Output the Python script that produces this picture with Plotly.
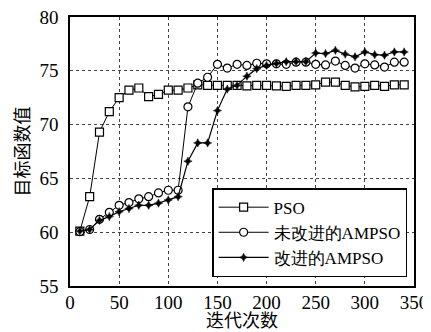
import plotly.graph_objects as go

iters = list(range(10, 350, 10))

pso = [60.1, 63.3, 69.3, 71.2, 72.5, 73.2, 73.4, 72.6, 72.8, 73.2,
       73.2, 73.4, 73.7, 73.65, 73.65, 73.65, 73.65, 73.6, 73.65, 73.65,
       73.6, 73.55, 73.65, 73.65, 73.7, 73.95, 73.95, 73.65, 73.5, 73.55,
       73.65, 73.55, 73.7, 73.7]

ampso_old = [60.05, 60.25, 61.2, 61.85, 62.5, 62.75, 63.1, 63.3, 63.65, 63.9,
             63.9, 71.65, 73.85, 74.4, 75.6, 75.25, 75.6, 75.5, 75.7, 75.65,
             75.65, 75.6, 75.8, 75.8, 75.6, 75.55, 75.9, 75.5, 75.25, 75.65,
             75.55, 75.35, 75.8, 75.8]

ampso_new = [60.1, 60.25, 61.1, 61.45, 61.9, 62.2, 62.5, 62.5, 62.7, 63.0,
             63.3, 66.6, 68.3, 68.3, 71.3, 73.3, 73.65, 74.5, 75.2, 75.5,
             75.68, 75.85, 75.85, 75.85, 76.65, 76.6, 76.9, 76.55, 76.3, 76.75,
             76.5, 76.45, 76.75, 76.75]

names = ["PSO", "未改进的AMPSO", "改进的AMPSO"]
x_title = "迭代次数"
y_title = "目标函数值"

x_ticks = [0, 50, 100, 150, 200, 250, 300, 350]
y_ticks = [55, 60, 65, 70, 75, 80]

FONT = "Liberation Serif"
CJK = "Noto Sans CJK SC"

fig = go.Figure()
fig.add_trace(go.Scatter(
    x=iters, y=pso, name=names[0], mode="lines+markers",
    line=dict(color="black", width=1),
    marker=dict(symbol="square", size=8, color="white",
                line=dict(color="black", width=1.2))))
fig.add_trace(go.Scatter(
    x=iters, y=ampso_old, name=names[1], mode="lines+markers",
    line=dict(color="black", width=1),
    marker=dict(symbol="circle", size=8, color="white",
                line=dict(color="black", width=1.2))))
fig.add_trace(go.Scatter(
    x=iters, y=ampso_new, name=names[2], mode="lines+markers",
    line=dict(color="black", width=1.2),
    marker=dict(symbol="star-diamond", size=6, color="black",
                line=dict(color="black", width=0.5))))

axis_common = dict(
    showline=True, linecolor="black", linewidth=1.5, mirror=True,
    showgrid=True, gridcolor="#444", gridwidth=1, griddash="dot",
    zeroline=False, ticks="", ticklabeloverflow="allow",
    tickfont=dict(family=FONT, size=19, color="black"),
)

fig.update_xaxes(range=[0, 350], tickvals=x_ticks, ticklabelstandoff=-2,
                 title=dict(text=x_title, font=dict(family=CJK, size=18, color="black"),
                            standoff=0),
                 **axis_common)
fig.update_yaxes(range=[55, 80], tickvals=y_ticks, ticklabelstandoff=6,
                 title=dict(text=y_title, font=dict(family=CJK, size=18, color="black"),
                            standoff=10),
                 **axis_common)

# the page body keeps its default 8px margin, so the figure sits at (8, 8)
fig.update_layout(
    width=423, height=324,
    margin=dict(l=62, r=17, t=9, b=46, autoexpand=False),
    paper_bgcolor="white", plot_bgcolor="white",
    font=dict(family=FONT, color="black"),
    showlegend=True,
    legend=dict(x=0.98, y=0.033, xanchor="right", yanchor="bottom",
                bgcolor="white", bordercolor="black", borderwidth=1.5,
                font=dict(family=FONT, size=17, color="black"),
                tracegroupgap=0, itemwidth=50),
)

fig.write_html("out.html")
